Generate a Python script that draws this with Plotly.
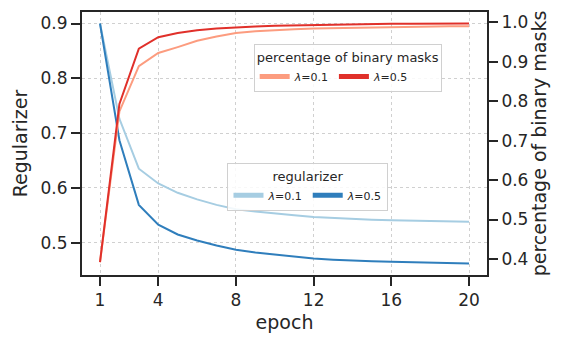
import plotly.graph_objects as go
from plotly.subplots import make_subplots

epochs = list(range(1, 21))
reg_l01 = [0.900, 0.726, 0.635, 0.608, 0.591, 0.579, 0.569, 0.561, 0.557, 0.553,
           0.550, 0.547, 0.545, 0.543, 0.542, 0.541, 0.540, 0.539, 0.538, 0.538]
reg_l05 = [0.900, 0.687, 0.569, 0.533, 0.515, 0.504, 0.495, 0.487, 0.482, 0.478,
           0.474, 0.471, 0.469, 0.467, 0.466, 0.465, 0.464, 0.463, 0.463, 0.462]
pct_l01 = [0.392, 0.774, 0.889, 0.922, 0.937, 0.953, 0.964, 0.973, 0.977, 0.980,
           0.982, 0.984, 0.985, 0.986, 0.987, 0.988, 0.989, 0.989, 0.990, 0.990]
pct_l05 = [0.392, 0.793, 0.933, 0.962, 0.973, 0.980, 0.984, 0.987, 0.989, 0.991,
           0.992, 0.993, 0.994, 0.995, 0.995, 0.996, 0.996, 0.996, 0.997, 0.997]
x_ticks = [1, 4, 8, 12, 16, 20]
left_ticks = [0.5, 0.6, 0.7, 0.8, 0.9]
right_ticks = [0.4, 0.5, 0.6, 0.7, 0.8, 0.9, 1.0]

INK = "#262626"
FONT = "DejaVu Sans"
TICK_SIZE = 17
TITLE_SIZE = 19

fig = make_subplots(specs=[[{"secondary_y": True}]])

fig.add_trace(go.Scatter(x=epochs, y=reg_l01, mode="lines", name="<i>λ</i>=0.1",
                         line=dict(color="#a6cde2", width=2), legend="legend2"),
              secondary_y=False)
fig.add_trace(go.Scatter(x=epochs, y=reg_l05, mode="lines", name="<i>λ</i>=0.5",
                         line=dict(color="#2f7ebc", width=2), legend="legend2"),
              secondary_y=False)
fig.add_trace(go.Scatter(x=epochs, y=pct_l01, mode="lines", name="<i>λ</i>=0.1",
                         line=dict(color="#fc9c7f", width=2), legend="legend"),
              secondary_y=True)
fig.add_trace(go.Scatter(x=epochs, y=pct_l05, mode="lines", name="<i>λ</i>=0.5",
                         line=dict(color="#e0302a", width=2), legend="legend"),
              secondary_y=True)

legend_common = dict(
    orientation="h", xanchor="center", yanchor="top",
    bgcolor="rgba(255,255,255,0.85)", bordercolor="#d0d0d0", borderwidth=1,
    font=dict(family=FONT, size=11, color=INK), itemwidth=30,
    tracegroupgap=0, itemsizing="constant",
)

fig.update_layout(
    width=553, height=334,
    margin=dict(l=74, r=74, t=4, b=67, autoexpand=False),
    plot_bgcolor="white", paper_bgcolor="white",
    font=dict(family=FONT, size=TICK_SIZE, color=INK),
    showlegend=True,
    legend=dict(x=0.656, y=0.878,
                title=dict(text="percentage of binary masks", side="top center",
                           font=dict(family=FONT, size=13, color=INK)),
                **legend_common),
    legend2=dict(x=0.558, y=0.426,
                 title=dict(text="regularizer", side="top center",
                            font=dict(family=FONT, size=13, color=INK)),
                 **legend_common),
)

fig.update_xaxes(
    domain=[0, 1],
    range=[0.073, 20.927], tickvals=x_ticks, ticktext=[str(t) for t in x_ticks],
    showline=True, linecolor=INK, linewidth=2, mirror=True,
    ticks="outside", ticklen=9, tickwidth=2, tickcolor=INK,
    showgrid=True, gridcolor="#d0d0d0", griddash="dot", gridwidth=1.2,
    zeroline=False, automargin=False,
    title=dict(text="epoch", font=dict(family=FONT, size=TITLE_SIZE, color=INK), standoff=6),
    tickfont=dict(family=FONT, size=TICK_SIZE, color=INK),
)
fig.update_yaxes(
    domain=[0, 1],
    range=[0.441, 0.921], tickvals=left_ticks, ticktext=[f"{v:.1f}" for v in left_ticks],
    showline=True, linecolor=INK, linewidth=2,
    ticks="outside", ticklen=9, tickwidth=2, tickcolor=INK,
    showgrid=True, gridcolor="#d0d0d0", griddash="dot", gridwidth=1.2,
    zeroline=False, automargin=False,
    title=dict(text="Regularizer", font=dict(family=FONT, size=TITLE_SIZE, color=INK), standoff=8),
    tickfont=dict(family=FONT, size=TICK_SIZE, color=INK),
    secondary_y=False,
)
fig.update_yaxes(
    range=[0.3594, 1.026], tickvals=right_ticks, ticktext=[f"{v:.1f}" for v in right_ticks],
    showline=True, linecolor=INK, linewidth=2,
    ticks="outside", ticklen=9, tickwidth=2, tickcolor=INK,
    showgrid=False, zeroline=False, automargin=False,
    title=dict(text="percentage of binary masks", font=dict(family=FONT, size=TITLE_SIZE, color=INK), standoff=4),
    tickfont=dict(family=FONT, size=TICK_SIZE, color=INK),
    secondary_y=True,
)

fig.write_html("out.html")
